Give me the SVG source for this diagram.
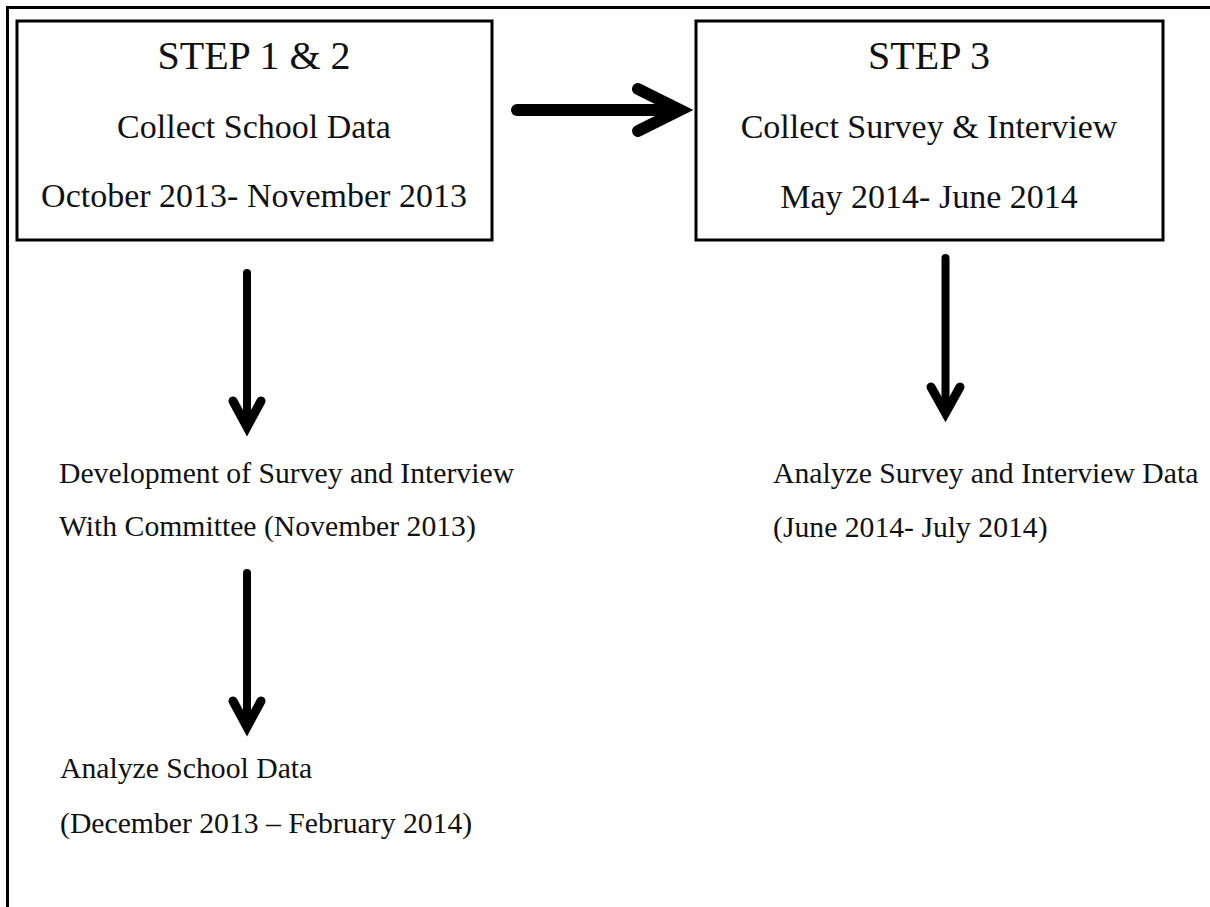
<svg xmlns="http://www.w3.org/2000/svg" width="1210" height="907" viewBox="0 0 1210 907">
<style>
.frame{fill:none;stroke:#000;stroke-width:3}
.box{fill:#fff;stroke:#000;stroke-width:3}
.head{font-family:"Liberation Serif","Times New Roman",serif;font-size:40px;fill:#111;text-anchor:middle}
.sub{font-family:"Liberation Serif","Times New Roman",serif;font-size:34px;fill:#111;text-anchor:middle}
.lbl{font-family:"Liberation Serif","Times New Roman",serif;font-size:29.7px;fill:#111}
.arr{fill:none;stroke:#000;stroke-linecap:round;stroke-linejoin:miter}
</style>
<rect width="1210" height="907" fill="#fff"/>
<path class="frame" d="M7.5,907 V7.5 H1210"/>
<g id="step12">
<rect class="box" x="17" y="21" width="475" height="219"/>
<text class="head" x="254" y="69">STEP 1 &amp; 2</text>
<text class="sub" x="254" y="138">Collect School Data</text>
<text class="sub" x="254" y="207">October 2013- November 2013</text>
</g>
<g id="step3">
<rect class="box" x="696" y="21" width="467" height="219"/>
<text class="head" x="929" y="69">STEP 3</text>
<text class="sub" x="929" y="138">Collect Survey &amp; Interview</text>
<text class="sub" x="929" y="208">May 2014- June 2014</text>
</g>
<g id="devSurvey">
<text class="lbl" x="59" y="483">Development of Survey and Interview</text>
<text class="lbl" x="59" y="536">With Committee (November 2013)</text>
</g>
<g id="analyzeSurvey">
<text class="lbl" x="773" y="483">Analyze Survey and Interview Data</text>
<text class="lbl" x="773" y="537">(June 2014- July 2014)</text>
</g>
<g id="analyzeSchool">
<text class="lbl" x="60" y="778">Analyze School Data</text>
<text class="lbl" x="60" y="833">(December 2013 – February 2014)</text>
</g>
<g id="connectors">
<path class="arr" stroke-width="12" d="M517,110 H678"/>
<path class="arr" stroke-width="12" d="M638,89 L680,110 L638,131"/>
<path class="arr" stroke-width="8" d="M247,273 V426"/>
<path class="arr" stroke-width="9" d="M233,401 L247,427 L261,401"/>
<path class="arr" stroke-width="8" d="M945.5,258 V412"/>
<path class="arr" stroke-width="9" d="M931,387 L945.5,413 L960,387"/>
<path class="arr" stroke-width="8" d="M247,573 V726"/>
<path class="arr" stroke-width="9" d="M233,701 L247,727 L261,701"/>
</g>
</svg>
